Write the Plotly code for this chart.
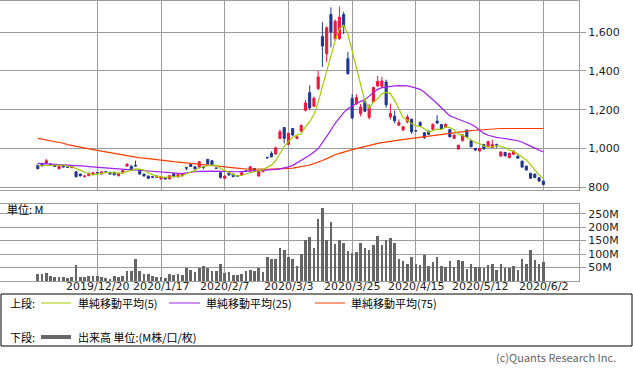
import pandas as pd
import plotly.graph_objects as go

# ---------------- data ----------------
holidays = ["2019-12-31", "2020-01-01", "2020-01-02", "2020-01-03", "2020-01-13",
            "2020-02-11", "2020-02-24", "2020-03-20", "2020-04-29", "2020-05-04",
            "2020-05-05", "2020-05-06"]
_days = [d for d in pd.bdate_range("2019-12-02", "2020-06-02")
         if d.strftime("%Y-%m-%d") not in holidays]
dates = [f"{d.year}/{d.month}/{d.day}" for d in _days]

tick_labels = ["2019/12/20", "2020/1/17", "2020/2/7", "2020/3/3",
               "2020/3/25", "2020/4/15", "2020/5/12", "2020/6/2"]

opens = [913, 922, 923, 920, 914, 896, 911, 906, 901, 880,
         868, 856, 860, 865, 876, 868, 880, 877, 877, 859,
         874, 909, 909, 912, 889, 868, 858, 854, 851, 843,
         850, 843, 870, 853, 859, 901, 918, 906, 901, 905,
         944, 937, 899, 875, 846, 875, 868, 858, 863, 885,
         884, 897, 858, 880, 954, 975, 971, 1052, 1108, 1021,
         1103, 1052, 1090, 1197, 1288, 1218, 1309, 1578, 1489, 1691,
         1566, 1566, 1691, 1463, 1258, 1232, 1180, 1243, 1160, 1240,
         1322, 1321, 1343, 1163, 1166, 1120, 1095, 1137, 1151, 1093,
         1134, 1081, 1090, 1099, 1141, 1124, 1110, 1098, 1052, 997,
         1040, 1095, 1040, 1000, 987, 1021, 1012, 1005, 1020, 961,
         980, 952, 970, 961, 935, 909, 872, 868, 849, 832]
highs = [918, 925, 946, 924, 916, 911, 913, 908, 911, 882,
         870, 862, 876, 877, 878, 881, 882, 879, 879, 874,
         887, 922, 912, 937, 891, 870, 860, 858, 860, 856,
         852, 862, 872, 868, 872, 901, 920, 908, 935, 906,
         946, 939, 901, 877, 860, 878, 870, 860, 877, 887,
         908, 899, 886, 895, 957, 985, 1010, 1098, 1110, 1080,
         1106, 1062, 1125, 1250, 1326, 1268, 1400, 1651, 1630, 1728,
         1665, 1732, 1705, 1497, 1280, 1280, 1230, 1250, 1230, 1320,
         1374, 1370, 1355, 1232, 1195, 1150, 1115, 1175, 1153, 1095,
         1140, 1083, 1092, 1130, 1172, 1126, 1130, 1100, 1072, 1019,
         1075, 1098, 1042, 1002, 1002, 1023, 1040, 1045, 1025, 985,
         982, 978, 990, 963, 937, 911, 874, 870, 851, 834]
lows = [893, 908, 920, 915, 905, 892, 903, 901, 899, 852,
        856, 850, 857, 863, 872, 866, 877, 867, 862, 857,
        872, 907, 884, 907, 866, 856, 844, 849, 849, 840,
        841, 841, 852, 851, 857, 889, 905, 892, 899, 893,
        918, 913, 896, 845, 843, 861, 852, 855, 861, 881,
        882, 882, 855, 878, 947, 955, 968, 1050, 1026, 1018,
        1066, 1050, 1085, 1190, 1200, 1215, 1300, 1420, 1446, 1521,
        1560, 1560, 1590, 1380, 1150, 1225, 1165, 1188, 1150, 1235,
        1318, 1318, 1210, 1150, 1130, 1118, 1092, 1130, 1075, 1088,
        1115, 1050, 1070, 1097, 1128, 1098, 1108, 1058, 1050, 994,
        1037, 1058, 1007, 988, 985, 995, 1010, 1003, 1003, 958,
        960, 950, 968, 948, 902, 887, 845, 848, 830, 812]
closes = [896, 910, 937, 918, 907, 909, 905, 903, 909, 854,
          859, 858, 872, 875, 874, 880, 879, 868, 864, 872,
          886, 920, 887, 910, 868, 858, 846, 852, 858, 854,
          843, 860, 854, 866, 870, 899, 907, 895, 932, 903,
          920, 915, 898, 851, 858, 863, 855, 857, 875, 883,
          906, 884, 884, 893, 952, 957, 1003, 1086, 1052, 1078,
          1069, 1060, 1118, 1235, 1209, 1259, 1369, 1528, 1622, 1600,
          1656, 1677, 1626, 1386, 1158, 1263, 1214, 1192, 1214, 1314,
          1346, 1348, 1225, 1180, 1143, 1134, 1112, 1163, 1086, 1091,
          1117, 1055, 1074, 1124, 1131, 1100, 1124, 1060, 1069, 1017,
          1070, 1060, 1009, 992, 1000, 998, 1036, 1020, 1018, 982,
          962, 975, 987, 950, 904, 889, 847, 850, 832, 814]

ma5 = [911, 912, 913, 913, 914, 916, 915, 908, 907, 896,
       886, 877, 870, 864, 868, 872, 876, 875, 873, 873,
       874, 882, 886, 895, 894, 889, 874, 867, 856, 854,
       851, 853, 854, 855, 859, 870, 879, 887, 901, 907,
       911, 913, 914, 897, 888, 877, 865, 857, 862, 867,
       875, 881, 886, 890, 904, 914, 938, 978, 1010, 1035,
       1058, 1069, 1075, 1112, 1138, 1176, 1238, 1320, 1397, 1476,
       1555, 1617, 1636, 1589, 1501, 1422, 1329, 1243, 1208, 1239,
       1256, 1283, 1289, 1283, 1248, 1206, 1159, 1146, 1128, 1117,
       1114, 1102, 1085, 1092, 1100, 1097, 1111, 1108, 1097, 1074,
       1068, 1055, 1045, 1030, 1026, 1012, 1007, 1009, 1014, 1011,
       1004, 991, 985, 971, 956, 941, 915, 888, 864, 846]
ma25 = [923, 922, 921, 920, 918, 917, 916, 915, 913, 912,
        911, 909, 907, 905, 903, 901, 900, 898, 897, 895,
        893, 892, 890, 889, 887, 885, 883, 881, 879, 877,
        875, 873, 871, 870, 870, 874, 878, 880, 882, 883,
        884, 884, 883, 882, 881, 880, 880, 880, 881, 882,
        883, 884, 885, 886, 887, 889, 892, 895, 899, 905,
        913, 925, 938, 952, 965, 982, 1000, 1030, 1060, 1095,
        1130, 1160, 1185, 1205, 1220, 1232, 1243, 1252, 1270, 1290,
        1305, 1314, 1318, 1321, 1323, 1324, 1325, 1323, 1318, 1312,
        1305, 1290, 1272, 1255, 1232, 1210, 1190, 1168, 1160, 1152,
        1145, 1137, 1125, 1112, 1095, 1078, 1068, 1062, 1057, 1054,
        1050, 1047, 1043, 1040, 1032, 1020, 1012, 1002, 992, 982]
ma75 = [1052, 1048, 1044, 1040, 1037, 1033, 1027, 1020, 1015, 1010,
        1006, 1002, 998, 994, 990, 986, 982, 978, 975, 971,
        967, 964, 960, 956, 952, 950, 947, 944, 941, 939,
        937, 934, 932, 930, 928, 927, 925, 923, 921, 919,
        917, 914, 911, 908, 905, 902, 899, 897, 896, 895,
        894, 894, 893, 893, 893, 894, 894, 895, 896, 897,
        899, 903, 906, 909, 915, 922, 928, 938, 948, 960,
        968, 975, 982, 988, 994, 999, 1005, 1011, 1016, 1021,
        1026, 1030, 1034, 1038, 1041, 1043, 1047, 1050, 1052, 1055,
        1058, 1060, 1063, 1066, 1070, 1074, 1077, 1080, 1083, 1086,
        1088, 1090, 1092, 1094, 1096, 1098, 1100, 1102, 1103, 1103,
        1103, 1103, 1103, 1103, 1103, 1103, 1103, 1103, 1103, 1103]

volume_m = [25, 25, 28, 17, 14, 14, 14, 10, 14, 58,
            14, 14, 17, 17, 17, 14, 10, 7, 17, 15,
            18, 38, 37, 80, 36, 26, 26, 17, 14, 14,
            10, 25, 22, 25, 22, 47, 40, 32, 47, 54,
            49, 36, 36, 62, 28, 32, 22, 22, 26, 36,
            40, 36, 47, 32, 88, 80, 80, 122, 114, 88,
            80, 54, 99, 154, 165, 121, 230, 273, 154, 221,
            136, 154, 140, 110, 103, 106, 143, 122, 117, 132,
            169, 132, 154, 158, 140, 80, 73, 62, 88, 62,
            58, 95, 54, 69, 91, 54, 51, 73, 51, 77,
            73, 43, 65, 51, 51, 47, 58, 65, 40, 62,
            47, 47, 54, 40, 80, 65, 114, 77, 65, 69]

price_ticks = [800, 1000, 1200, 1400, 1600]
price_tick_text = ["800", "1,000", "1,200", "1,400", "1,600"]
vol_ticks = [50, 100, 150, 200, 250]
vol_tick_text = ["50M", "100M", "150M", "200M", "250M"]

# ---------------- figure ----------------
W, H = 633, 371
def px(x):
    return x / W
def py(y):
    return 1 - y / H

RED = "#f0143c"
BLUE = "#1f3593"
GRID = "#9c9c9c"
NUM_FONT = "DejaVu Sans"
JP_FONT = "Noto Sans CJK JP"

fig = go.Figure()
fig.add_trace(go.Candlestick(
    x=dates, open=opens, high=highs, low=lows, close=closes,
    increasing=dict(line=dict(color=RED, width=1), fillcolor=RED),
    decreasing=dict(line=dict(color=BLUE, width=1), fillcolor=BLUE),
    xaxis="x", yaxis="y", hoverinfo="skip", showlegend=False))
fig.add_trace(go.Scatter(x=dates, y=ma75, mode="lines",
                         line=dict(color="#ff3c00", width=1.2), xaxis="x", yaxis="y",
                         hoverinfo="skip", showlegend=False))
fig.add_trace(go.Scatter(x=dates, y=ma25, mode="lines",
                         line=dict(color="#a020f0", width=1.2), xaxis="x", yaxis="y",
                         hoverinfo="skip", showlegend=False))
fig.add_trace(go.Scatter(x=dates, y=ma5, mode="lines",
                         line=dict(color="#a0cc00", width=1.2), xaxis="x", yaxis="y",
                         hoverinfo="skip", showlegend=False))
fig.add_trace(go.Bar(x=dates, y=volume_m, marker=dict(color="#666666", line=dict(width=0)),
                     width=0.62, xaxis="x2", yaxis="y2", hoverinfo="skip", showlegend=False))

x_dom = [0, px(579)]
x_rng = [-8.9, 127.4]
common_x = dict(type="category", categoryorder="array", categoryarray=dates,
                range=x_rng, tickmode="array", tickvals=tick_labels,
                showgrid=True, gridcolor=GRID, gridwidth=1,
                showline=True, linecolor=GRID, linewidth=1, mirror=True,
                zeroline=False, fixedrange=True, automargin=False,
                showticklabels=False, ticks="")

fig.update_layout(
    width=W, height=H, margin=dict(l=0, r=0, t=0, b=0, pad=0, autoexpand=False),
    paper_bgcolor="white", plot_bgcolor="white",
    bargap=0,
    xaxis=dict(domain=x_dom, anchor="y", rangeslider=dict(visible=False), **common_x),
    yaxis=dict(domain=[py(190), py(0.5)], range=[786, 1763], side="right",
               anchor="x", tickmode="array", tickvals=price_ticks, ticktext=price_tick_text,
               showgrid=True, gridcolor=GRID, gridwidth=1,
               showline=True, linecolor=GRID, linewidth=1, mirror=True,
               ticks="outside", ticklen=6, tickcolor=GRID,
               tickfont=dict(family=NUM_FONT, size=11, color="#222"),
               zeroline=False, automargin=False, fixedrange=True),
    xaxis2=dict(domain=x_dom, anchor="y2", **common_x),
    yaxis2=dict(domain=[py(281), py(203.5)], range=[0, 288], side="right",
                anchor="x2", tickmode="array", tickvals=vol_ticks, ticktext=vol_tick_text,
                showgrid=True, gridcolor=GRID, gridwidth=1,
                showline=True, linecolor=GRID, linewidth=1, mirror=True,
                ticks="outside", ticklen=6, tickcolor=GRID,
                tickfont=dict(family=NUM_FONT, size=11, color="#222"),
                zeroline=False, automargin=False, fixedrange=True),
)

shapes = [
    dict(type="rect", xref="paper", yref="paper", x0=px(1), x1=px(632), y0=py(346), y1=py(294),
         line=dict(color="black", width=1), fillcolor="rgba(0,0,0,0)"),
    dict(type="line", xref="paper", yref="paper", x0=px(41), x1=px(71), y0=py(303), y1=py(303),
         line=dict(color="#a0cc00", width=1)),
    dict(type="line", xref="paper", yref="paper", x0=px(169), x1=px(200), y0=py(303), y1=py(303),
         line=dict(color="#a020f0", width=1)),
    dict(type="line", xref="paper", yref="paper", x0=px(315), x1=px(345), y0=py(303), y1=py(303),
         line=dict(color="#ff3c00", width=1)),
    dict(type="line", xref="paper", yref="paper", x0=px(41), x1=px(71), y0=py(337), y1=py(337),
         line=dict(color="#666666", width=4)),
]
fig.update_layout(shapes=shapes)

# date labels under the volume panel
for lab in tick_labels:
    fig.add_annotation(x=lab, xref="x2", y=py(286), yref="paper", text=lab,
                       showarrow=False, xanchor="center", yanchor="middle",
                       font=dict(family=NUM_FONT, size=11, color="#222"))

def txt(x, y, s, anchor="left", color="black", size=11):
    fig.add_annotation(x=px(x), y=py(y), xref="paper", yref="paper", text=s,
                       showarrow=False, xanchor=anchor, yanchor="middle",
                       font=dict(family=JP_FONT, size=size, color=color))

txt(5, 209, "単位: M")
txt(8, 303, "上段:")
txt(76, 303, "単純移動平均(5)")
txt(204, 303, "単純移動平均(25)")
txt(349, 303, "単純移動平均(75)")
txt(8, 337, "下段:")
txt(76, 337, "出来高 単位:(M株/口/枚)")
txt(618, 357, "(c)Quants Research Inc.", anchor="right", color="#666666")

fig.write_html("out.html", config={"displayModeBar": False, "staticPlot": True},
               post_script="document.body.style.margin='0';")
